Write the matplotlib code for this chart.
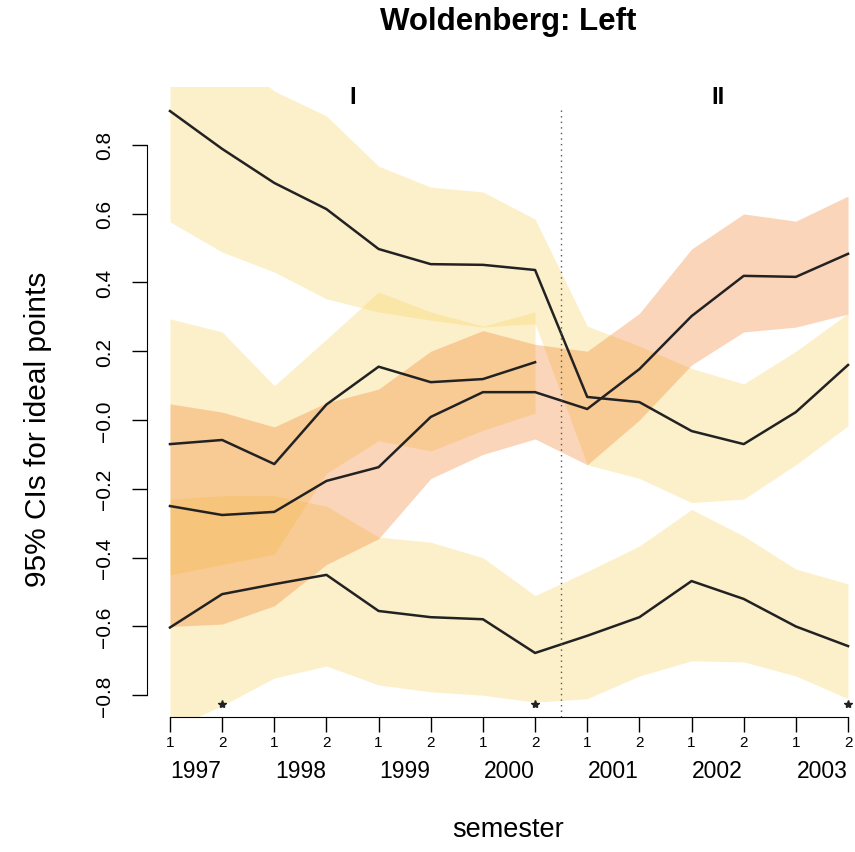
import numpy as np
import matplotlib.pyplot as plt

# semesters 1997-1 .. 2003-2
semesters = np.arange(1, 15)
sem_labels = ['1', '2'] * 7
years = ['1997', '1998', '1999', '2000', '2001', '2002', '2003']
star_sems = [2, 8, 14]

# ideal point estimates with 95% CIs
a_mid = [0.898, 0.788, 0.689, 0.613, 0.497, 0.453, 0.451, 0.436, 0.067, 0.052, -0.032, -0.070, 0.023, 0.160]
a_hi = [1.22, 1.09, 0.956, 0.884, 0.738, 0.677, 0.663, 0.584, 0.273, 0.215, 0.150, 0.105, 0.200, 0.310]
a_lo = [0.576, 0.488, 0.430, 0.352, 0.314, 0.290, 0.270, 0.280, -0.130, -0.170, -0.240, -0.230, -0.130, -0.017]

b_mid = [-0.070, -0.058, -0.128, 0.045, 0.155, 0.110, 0.119, 0.168]
b_hi = [0.294, 0.256, 0.100, 0.235, 0.372, 0.314, 0.273, 0.314]
b_lo = [-0.450, -0.420, -0.390, -0.155, -0.060, -0.090, -0.030, 0.020]

c_mid = [-0.250, -0.276, -0.267, -0.177, -0.137, 0.009, 0.081, 0.081, 0.032, 0.148, 0.302, 0.419, 0.416, 0.483]
c_hi = [0.047, 0.023, -0.020, 0.050, 0.090, 0.200, 0.260, 0.220, 0.200, 0.310, 0.497, 0.599, 0.578, 0.651]
c_lo = [-0.600, -0.593, -0.540, -0.420, -0.345, -0.170, -0.100, -0.055, -0.130, 0.000, 0.160, 0.256, 0.270, 0.308]

d_mid = [-0.603, -0.506, -0.477, -0.450, -0.555, -0.573, -0.579, -0.677, -0.627, -0.573, -0.468, -0.520, -0.600, -0.657]
d_hi = [-0.230, -0.220, -0.220, -0.250, -0.340, -0.355, -0.400, -0.510, -0.440, -0.366, -0.260, -0.337, -0.433, -0.476]
d_lo = [-0.900, -0.830, -0.750, -0.715, -0.770, -0.790, -0.800, -0.820, -0.810, -0.744, -0.700, -0.703, -0.744, -0.810]

yellow = '#F8D055'
peach = '#F27619'
band_alpha = 0.3

plt.rcParams['font.family'] = ['Liberation Sans', 'DejaVu Sans']

fig = plt.figure(figsize=(8.55, 8.53), dpi=100)
ax = fig.add_axes([0.1719, 0.1583, 0.8468, 0.7386])

# confidence bands
ax.fill_between(semesters, a_lo, a_hi, color=yellow, alpha=band_alpha, lw=0)
ax.fill_between(semesters[:8], b_lo, b_hi, color=yellow, alpha=band_alpha, lw=0)
ax.fill_between(semesters, d_lo, d_hi, color=yellow, alpha=band_alpha, lw=0)
ax.fill_between(semesters, c_lo, c_hi, color=peach, alpha=band_alpha, lw=0)

# point estimates
for mid, xs in [(a_mid, semesters), (b_mid, semesters[:8]), (c_mid, semesters), (d_mid, semesters)]:
    ax.plot(xs, mid, color='#222222', lw=1.8)

ax.plot(star_sems, [-0.826] * len(star_sems), ls='none', marker='*', ms=6, color='#222222')

# legislature break
ax.plot([8.5, 8.5], [-0.863, 0.90], ls=(0, (1, 3)), color='#555555', lw=1)
ax.text(4.5, 0.94, 'I', ha='center', va='center', fontsize=17, fontweight='bold')
ax.text(11.5, 0.94, 'II', ha='center', va='center', fontsize=17, fontweight='bold')

ax.set_xlim(0.559, 14.44)
ax.set_ylim(-0.863, 0.968)

for side in ['top', 'right']:
    ax.spines[side].set_visible(False)
ax.spines['left'].set_bounds(-0.8, 0.8)
ax.spines['bottom'].set_bounds(1, 14)

ax.set_xticks(semesters)
ax.set_xticklabels(sem_labels, fontsize=11)
ax.tick_params(axis='x', length=11, width=1, pad=2)
yt = np.round(np.arange(-0.8, 0.81, 0.2), 1)
ax.set_yticks(yt)
ax.set_yticklabels([f'{v:.1f}'.replace('-', '\u2212') for v in yt], rotation=90, va='center', fontsize=15)
ax.tick_params(axis='y', length=11, width=1, pad=13)

for i, yr in enumerate(years):
    ax.text(2 * i + 1.5, -0.085, yr, transform=ax.get_xaxis_transform(),
            ha='center', va='center', fontsize=16.5)

fig.text(0.594, 0.974, 'Woldenberg: Left', ha='center', va='center', fontsize=22.5, fontweight='bold')
fig.text(0.594, 0.027, 'semester', ha='center', va='center', fontsize=19.5)
fig.text(0.045, 0.497, '95% CIs for ideal points', ha='center', va='center', rotation=90, fontsize=21.5)

fig.savefig('out.png', dpi=100)
